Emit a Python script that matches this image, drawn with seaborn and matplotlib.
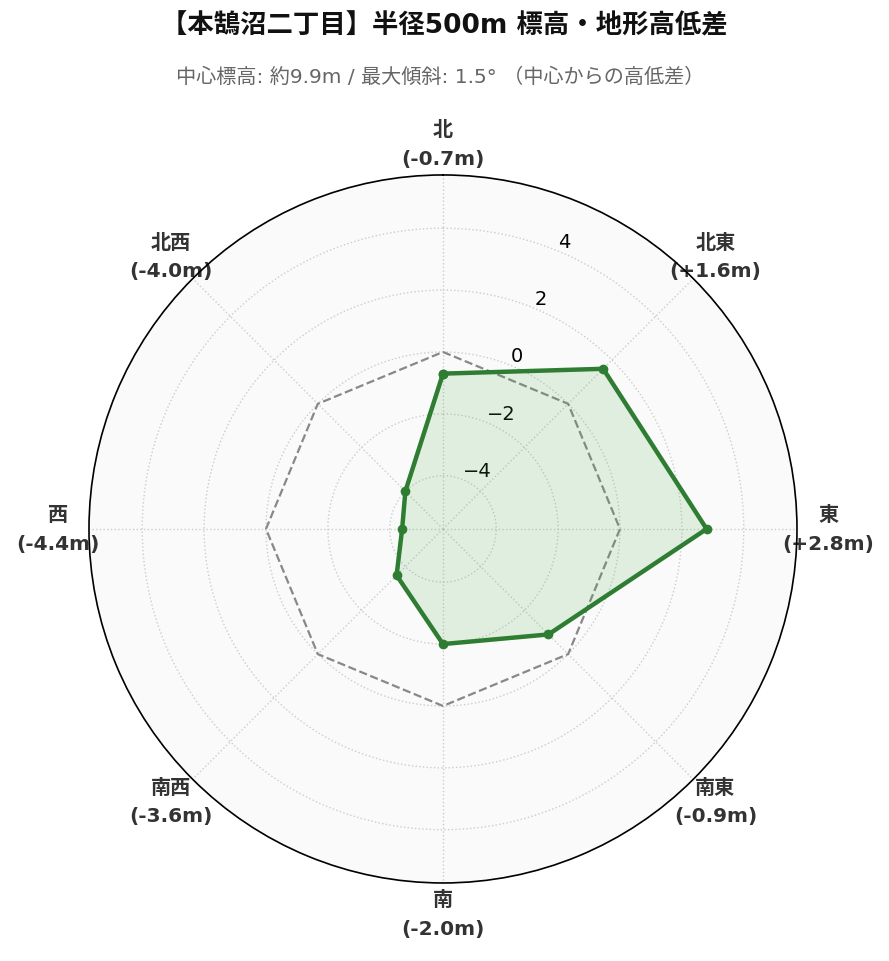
import numpy as np
import pandas as pd
import matplotlib
matplotlib.use("Agg")
import matplotlib.pyplot as plt
import seaborn as sns

# 方位ごとの高低差 (中心からの差, m)
directions = ['北', '北東', '東', '南東', '南', '南西', '西', '北西']
angles_deg = [0, 45, 90, 135, 180, 225, 270, 315]
diffs = [-0.7, 1.6, 2.8, -0.9, -2.0, -3.6, -4.4, -4.0]
r_ticks = [-4, -2, 0, 2, 4]

title = '【本鵠沼二丁目】半径500m 標高・地形高低差'
subtitle = '中心標高: 約9.9m / 最大傾斜: 1.5° （中心からの高低差）'

plt.rcParams['font.family'] = ['DejaVu Sans', 'Noto Sans CJK JP']

green = '#2e7d32'
lim = max(abs(v) for v in diffs) * 1.3

theta = np.deg2rad(angles_deg)
df = pd.DataFrame({'theta': np.append(theta, theta[0] + 2 * np.pi),
                   'diff': diffs + [diffs[0]],
                   'zero': [0.0] * (len(diffs) + 1)})

fig = plt.figure(figsize=(8.89, 9.62), dpi=100)
ax = fig.add_axes([0.1001, 0.0811, 0.7964, 0.736], projection='polar')
ax.set_facecolor('#fafafa')
ax.set_theta_zero_location('N')
ax.set_theta_direction(-1)

# 基準線 (高低差 0)
sns.lineplot(data=df, x='theta', y='zero', sort=False, estimator=None,
             color='#888888', linestyle='--', linewidth=1.6, ax=ax)
ax.fill(df['theta'], df['diff'], color='#4caf50', alpha=0.15, zorder=2)
sns.lineplot(data=df, x='theta', y='diff', sort=False, estimator=None,
             color=green, linewidth=3.2, marker='o', markersize=7,
             markeredgewidth=0, ax=ax, zorder=3)

ax.set_xlabel('')
ax.set_ylabel('')
ax.set_ylim(-lim, lim)
ax.set_yticks(r_ticks)
ax.set_yticklabels([f'{t}'.replace('-', '\u2212') for t in r_ticks], fontsize=14)
ax.set_rlabel_position(22.5)

ax.set_xticks(theta)
ax.set_xticklabels([f'{d}\n({v:+.1f}m)' for d, v in zip(directions, diffs)],
                   fontweight='bold', fontsize=14.5, color='#333333',
                   linespacing=1.65)
ax.tick_params(axis='x', pad=12)

ax.grid(True, linestyle=':', color='#cccccc', linewidth=1)
ax.spines['polar'].set_color('black')
ax.spines['polar'].set_linewidth(1.2)

fig.text(0.5, 0.972, title, ha='center', va='center', fontsize=19,
         fontweight='bold', color='#111111')
fig.text(0.495, 0.92, subtitle, ha='center', va='center', fontsize=14.5,
         color='#666666')

fig.savefig('out.png', dpi=100)
